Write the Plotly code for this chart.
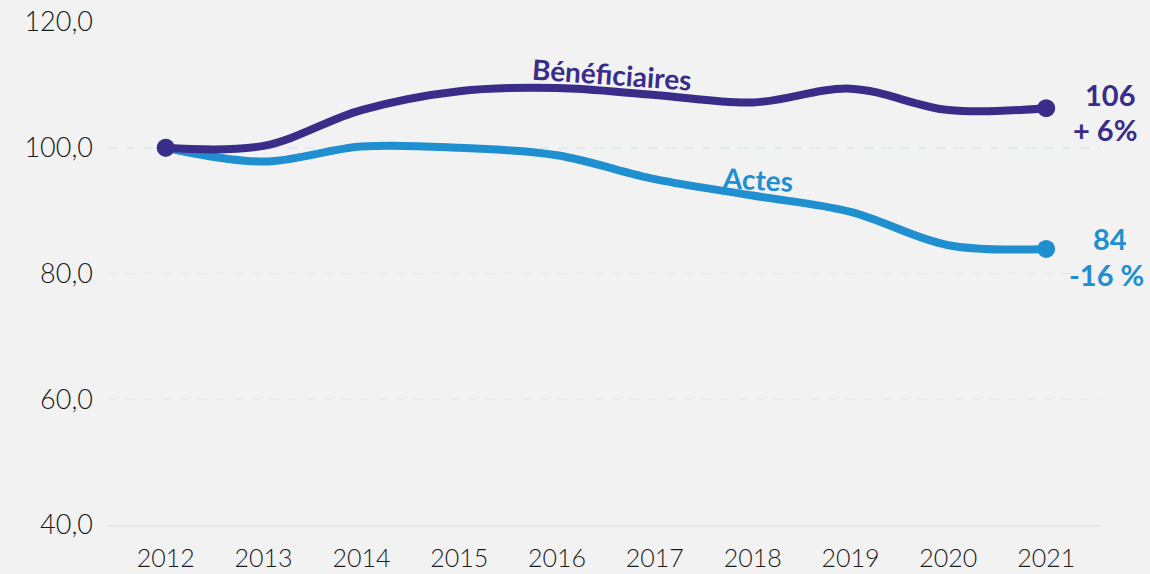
import plotly.graph_objects as go

# Indice base 100 en 2012
years = [2012, 2013, 2014, 2015, 2016, 2017, 2018, 2019, 2020, 2021]
beneficiaires = [100.0, 100.3, 106.0, 109.0, 109.5, 108.4, 107.2, 109.4, 106.0, 106.3]
actes = [100.0, 97.8, 100.2, 100.0, 98.8, 95.0, 92.4, 89.8, 84.5, 83.9]

y_ticks = [40, 60, 80, 100, 120]
y_tick_labels = ["40,0", "60,0", "80,0", "100,0", "120,0"]

PURPLE = "#3a2d89"
BLUE = "#1f8fd0"
BG = "#f2f2f2"
FONT = "Lato"

X_RANGE = [2011.41, 2021.55]


def paper_x(year):
    """Position horizontale (fraction du domaine) d'une année hors plage."""
    return (year - X_RANGE[0]) / (X_RANGE[1] - X_RANGE[0])


fig = go.Figure()

# Lignes de référence pointillées plus marquées à 80 et 100
for ref in (80, 100):
    fig.add_hline(y=ref, line=dict(color="#9fd6ef", width=1, dash="dash"), layer="below")

for name, vals, color in (("Actes", actes, BLUE), ("Bénéficiaires", beneficiaires, PURPLE)):
    fig.add_trace(go.Scatter(
        x=years, y=vals, mode="lines", name=name,
        line=dict(color=color, width=8, shape="spline", smoothing=1.0),
        hoverinfo="skip", cliponaxis=False,
    ))
    fig.add_trace(go.Scatter(
        x=[years[0], years[-1]], y=[vals[0], vals[-1]], mode="markers",
        marker=dict(color=color, size=18), hoverinfo="skip", cliponaxis=False,
    ))

# Étiquettes de série
fig.add_annotation(x=2016.56, y=111.7, text="<b>Bénéficiaires</b>", showarrow=False,
                   textangle=4, font=dict(family=FONT, size=28, color=PURPLE))
fig.add_annotation(x=2018.05, y=95.0, text="<b>Actes</b>", showarrow=False,
                   textangle=3, font=dict(family=FONT, size=28, color=BLUE))

# Valeurs finales et évolution
b_last = beneficiaires[-1]
a_last = actes[-1]
b_pct = round(b_last - beneficiaires[0])
a_pct = round(a_last - actes[0])
end_labels = [
    (2021.65, b_last + 2.1, f"<b>{round(b_last)}</b>", PURPLE),
    (2021.60, b_last - 3.4, f"<b>+ {b_pct}%</b>", PURPLE),
    (2021.65, a_last + 1.6, f"<b>{round(a_last)}</b>", BLUE),
    (2021.62, a_last - 4.1, f"<b>{a_pct} %</b>", BLUE),
]
for yr, val, txt, color in end_labels:
    fig.add_annotation(x=paper_x(yr), xref="paper", xanchor="center", y=val, yref="y",
                       text=txt, showarrow=False,
                       font=dict(family=FONT, size=29, color=color))

fig.update_layout(
    width=1150, height=574,
    paper_bgcolor=BG, plot_bgcolor=BG,
    margin=dict(l=108, r=50, t=22, b=49),
    showlegend=False,
    font=dict(family=FONT, size=26, color="#1a1a1a"),
    xaxis=dict(
        range=X_RANGE, tickmode="array", tickvals=years,
        ticktext=[str(y) for y in years], showgrid=False, zeroline=False,
        showline=True, linecolor="#e6e6e6", linewidth=2, automargin=False,
        ticks="", ticklabelstandoff=10, tickfont=dict(size=25, weight=300),
    ),
    yaxis=dict(
        range=[40, 120], tickmode="array", tickvals=y_ticks, ticktext=y_tick_labels,
        showgrid=True, gridcolor="#dcecf4", griddash="dash", gridwidth=1,
        zeroline=False, showline=False, ticks="", ticklabelstandoff=14,
        automargin=False, tickfont=dict(size=27, weight=300),
    ),
)

fig.write_html("out.html")
